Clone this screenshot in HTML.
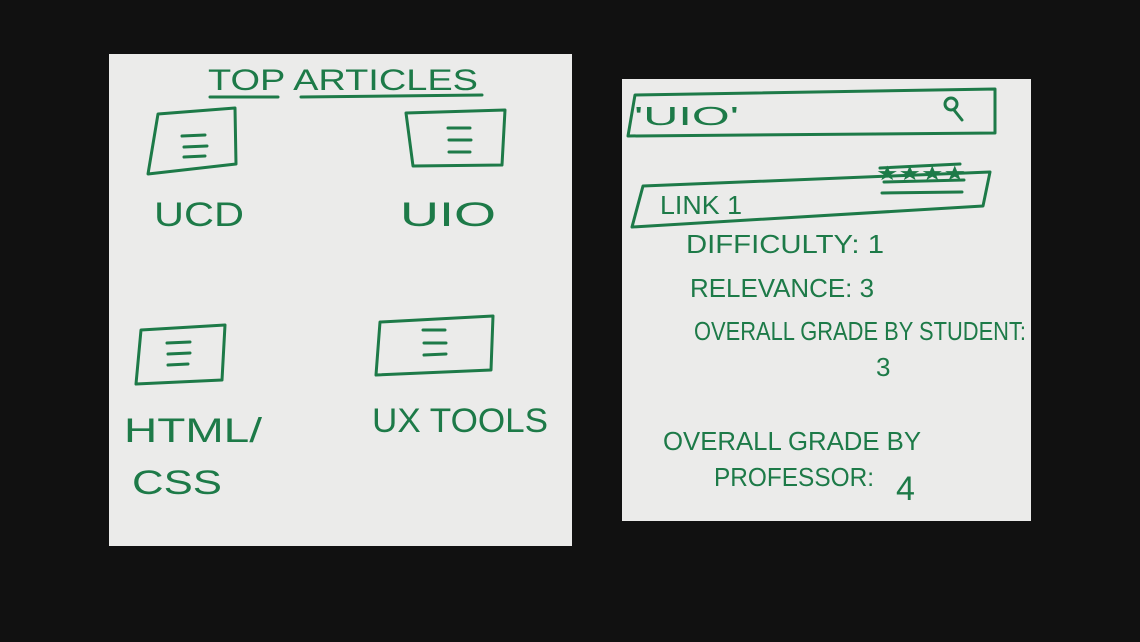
<!DOCTYPE html>
<html><head><style>
html,body{margin:0;padding:0;background:#111111;width:1140px;height:642px;overflow:hidden}
svg{display:block}
text{font-family:"Liberation Sans",sans-serif;fill:#1d7a48;font-weight:normal}
</style></head><body>
<svg width="1140" height="642" viewBox="0 0 1140 642">
<rect width="1140" height="642" fill="#111111"/>
<rect x="109" y="54" width="463" height="492" fill="#ebebea"/>
<rect x="622" y="79" width="409" height="442" fill="#ebebea"/>
<g fill="none" stroke="#1d7a48" stroke-width="3" stroke-linecap="round" stroke-linejoin="round">
<!-- left doc icons -->
<path d="M158 114 L235 108 L236 164 L148 174 Z"/>
<path d="M182 136 L205 135 M184 147 L207 146 M184 157 L205 156"/>
<path d="M406 113 L505 110 L502 165 L413 166 Z"/>
<path d="M448 128 L470 128 M449 140 L471 140 M449 152 L470 152"/>
<path d="M141 330 L225 325 L222 380 L136 384 Z"/>
<path d="M167 343 L190 342 M168 354 L190 353 M168 365 L188 364"/>
<path d="M380 322 L493 316 L491 370 L376 375 Z"/>
<path d="M423 330 L445 330 M424 343 L446 343 M424 355 L446 354"/>
<path d="M210 97 L278 97 M301 97 L482 95"/>
<!-- right search -->
<path d="M635 95 L995 89 L995 133 L628 136 Z"/>
<circle cx="951" cy="104" r="6"/><path d="M954 110 L962 120"/>
<path d="M643 186 L990 172 L983 206 L632 227 Z"/>
<path d="M880 168 L960 164 M884 182 L964 180 M882 193 L962 192"/>
</g>
<g font-size="34">
<text x="208" y="90" font-size="30" textLength="270" lengthAdjust="spacingAndGlyphs">TOP  ARTICLES</text>
<text x="154" y="226" textLength="90" lengthAdjust="spacingAndGlyphs">UCD</text>
<text x="400" y="226" textLength="96" lengthAdjust="spacingAndGlyphs">UIO</text>
<text x="124" y="442" textLength="138" lengthAdjust="spacingAndGlyphs">HTML/</text>
<text x="132" y="494" textLength="90" lengthAdjust="spacingAndGlyphs">CSS</text>
<text x="372" y="432" textLength="176" lengthAdjust="spacingAndGlyphs">UX TOOLS</text>
</g>
<g font-size="26">
<text x="634" y="125" textLength="105" lengthAdjust="spacingAndGlyphs">'UIO'</text>
<text x="660" y="214" textLength="82" lengthAdjust="spacingAndGlyphs">LINK 1</text>
<text x="686" y="253" textLength="198" lengthAdjust="spacingAndGlyphs">DIFFICULTY: 1</text>
<text x="690" y="297" textLength="184" lengthAdjust="spacingAndGlyphs">RELEVANCE: 3</text>
<text x="694" y="340" textLength="332" lengthAdjust="spacingAndGlyphs">OVERALL GRADE BY STUDENT:</text>
<text x="876" y="376">3</text>
<text x="663" y="450" textLength="258" lengthAdjust="spacingAndGlyphs">OVERALL GRADE BY</text>
<text x="714" y="486" textLength="160" lengthAdjust="spacingAndGlyphs">PROFESSOR:</text>
<text x="896" y="500" font-size="34">4</text>
<text x="876" y="180" font-size="20" textLength="90" lengthAdjust="spacingAndGlyphs">★★★★</text>
</g>
</svg>
</body></html>
